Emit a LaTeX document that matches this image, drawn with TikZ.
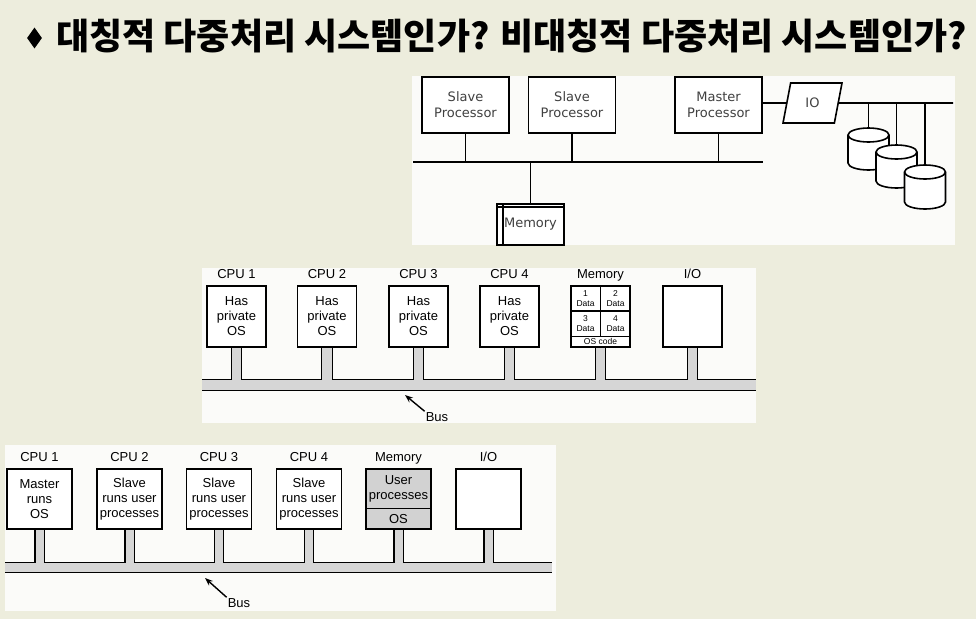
\documentclass[tikz,border=0pt]{standalone}
\usepackage{fontspec}
\setmainfont{Liberation Sans}
\newfontfamily\dejavu{DejaVu Sans}
\newfontfamily\kofont{Noto Sans CJK KR}
\usetikzlibrary{shapes.geometric, arrows.meta, positioning, calc}

\definecolor{slidebg}{RGB}{237,237,221}
\definecolor{panelbg}{RGB}{251,251,249}
\definecolor{busgray}{RGB}{214,214,214}
\definecolor{memgray}{RGB}{210,210,210}

\begin{document}
\begin{tikzpicture}[
  x=1pt, y=-1pt,
  procbox/.style={rectangle, draw, line width=1.6pt, fill=white, minimum width=87pt, minimum height=56pt, inner sep=0pt, align=center, text=black!75, font=\dejavu\fontsize{13}{16}\selectfont},
  wire/.style={line width=1.6pt},
  iobox/.style={trapezium, trapezium left angle=76, trapezium right angle=104, trapezium stretches=true, draw, line width=1.6pt, fill=white, minimum width=59pt, minimum height=40pt, inner sep=0pt, text=black!75, font=\dejavu\fontsize{13}{16}\selectfont},
  disk/.style={wire, fill=white},
  cpubox/.style={rectangle, draw, line width=1.2pt, fill=white, inner sep=0pt, align=center, font=\fontsize{13}{15}\selectfont},
  smpbox/.style={cpubox, minimum width=59pt, minimum height=61pt},
  ampbox/.style={cpubox, minimum width=65pt, minimum height=60pt},
  cpulbl/.style={font=\fontsize{13}{15}\selectfont, inner sep=0pt, text height=9.5pt, text depth=0pt, label distance=7pt},
  cell/.style={inner sep=0pt, align=center, font=\fontsize{8.5}{9.5}\selectfont},
  bus/.style={line width=1.2pt, double=busgray},
  busarrow/.style={-{Stealth[length=8pt, width=6pt]}, line width=1.4pt},
  buslbl/.style={inner sep=1pt, font=\fontsize{13}{15}\selectfont}
]
\useasboundingbox (0,0) rectangle (976,619);
\fill[slidebg] (0,0) rectangle (976,619);

% Title
\node[diamond, fill=black, minimum width=15pt, minimum height=21pt, inner sep=0pt] (bullet) at (34.5,38) {};
\node[anchor=west, inner sep=0pt, font=\kofont\bfseries\fontsize{36}{40}\selectfont] (title) at (56,36) {대칭적 다중처리 시스템인가? 비대칭적 다중처리 시스템인가?};

% Panels
\fill[panelbg] (412,76) rectangle (955,245);
\fill[panelbg] (202,268) rectangle (756,423);
\fill[panelbg] (5,445) rectangle (556,611);

% Master/slave processors
\node[procbox] (slave1) at (465.5,105) {Slave\\Processor};
\node[procbox] (slave2) at (572,105) {Slave\\Processor};
\node[procbox] (master) at (718.5,105) {Master\\Processor};
\node[procbox, minimum width=67pt, minimum height=41pt] (mem) at (530.5,224.5) {Memory};
\draw[wire] ([xshift=7pt]mem.north west) -- ([xshift=7pt]mem.south west);
\draw[wire] ([yshift=-4pt]mem.north west) -- ([yshift=-4pt]mem.north east);

\coordinate (bus1l) at (413,162);
\coordinate (bus1r) at (763,162);
\draw[wire] (bus1l) -- (bus1r);
\draw[wire] (slave1.south) -- (slave1.south |- bus1l);
\draw[wire] (slave2.south) -- (slave2.south |- bus1l);
\draw[wire] (master.south) -- (master.south |- bus1l);
\draw[wire] (mem.north) -- (mem.north |- bus1l);

% IO and disks
\node[iobox] (io) at (812.5,103) {IO};
\coordinate (ioend) at (953,103);
\draw[wire] (master.east |- io.west) -- (io.west);
\draw[wire] (io.east) -- (ioend);

\coordinate (disk1) at (868.5,128);
\coordinate (disk2) at (896.5,145);
\coordinate (disk3) at (925,165);
\filldraw[disk] ($(disk1)+(-20.5,7)$) -- ++(0,28) arc[start angle=180, end angle=360, x radius=20.5pt, y radius=7pt] -- ++(0,-28) arc[start angle=0, end angle=180, x radius=20.5pt, y radius=7pt] -- cycle;
\draw[wire] ($(disk1)+(-20.5,7)$) arc[start angle=180, end angle=360, x radius=20.5pt, y radius=7pt];
\filldraw[disk] ($(disk2)+(-20.5,7)$) -- ++(0,29) arc[start angle=180, end angle=360, x radius=20.5pt, y radius=7pt] -- ++(0,-29) arc[start angle=0, end angle=180, x radius=20.5pt, y radius=7pt] -- cycle;
\draw[wire] ($(disk2)+(-20.5,7)$) arc[start angle=180, end angle=360, x radius=20.5pt, y radius=7pt];
\filldraw[disk] ($(disk3)+(-20.5,7)$) -- ++(0,30) arc[start angle=180, end angle=360, x radius=20.5pt, y radius=7pt] -- ++(0,-30) arc[start angle=0, end angle=180, x radius=20.5pt, y radius=7pt] -- cycle;
\draw[wire] ($(disk3)+(-20.5,7)$) arc[start angle=180, end angle=360, x radius=20.5pt, y radius=7pt];
\draw[wire] (disk1 |- ioend) -- (disk1);
\draw[wire] (disk2 |- ioend) -- (disk2);
\draw[wire] (disk3 |- ioend) -- (disk3);

% Symmetric: each CPU has private OS
\node[smpbox, label={[cpulbl]above:CPU 1}] (smp1) at (236.5,316.5) {Has\\private\\OS};
\node[smpbox, label={[cpulbl]above:CPU 2}] (smp2) at (327,316.5) {Has\\private\\OS};
\node[smpbox, label={[cpulbl]above:CPU 3}] (smp3) at (418.5,316.5) {Has\\private\\OS};
\node[smpbox, label={[cpulbl]above:CPU 4}] (smp4) at (509.5,316.5) {Has\\private\\OS};
\node[smpbox, label={[cpulbl]above:Memory}] (smpmem) at (600.5,316.5) {};
\node[smpbox, label={[cpulbl]above:I/O}] (smpio) at (692.5,316.5) {};

\draw[line width=1.2pt] ($(smpmem.north west)!0.41!(smpmem.south west)$) -- ($(smpmem.north east)!0.41!(smpmem.south east)$);
\draw[line width=1.2pt] ($(smpmem.north west)!0.82!(smpmem.south west)$) -- ($(smpmem.north east)!0.82!(smpmem.south east)$);
\draw[line width=1.2pt] (smpmem.north) -- ($(smpmem.north)!0.82!(smpmem.south)$);
\node[cell] (d1) at (585.5,298.5) {1\\Data};
\node[cell] (d2) at (615.5,298.5) {2\\Data};
\node[cell] (d3) at (585.5,323.5) {3\\Data};
\node[cell] (d4) at (615.5,323.5) {4\\Data};
\node[cell] (oscode) at (600.5,341.5) {OS code};

\coordinate (bus2l) at (202,385);
\coordinate (bus2r) at (756,385);
\draw[bus, double distance=10pt] (bus2l) -- (bus2r);
\draw[bus, double distance=9.5pt] ($(smp1.south)+(0,0.6)$) -- ($(smp1.south |- bus2l)+(0,-5)$);
\draw[bus, double distance=9.5pt] ($(smp2.south)+(0,0.6)$) -- ($(smp2.south |- bus2l)+(0,-5)$);
\draw[bus, double distance=9.5pt] ($(smp3.south)+(0,0.6)$) -- ($(smp3.south |- bus2l)+(0,-5)$);
\draw[bus, double distance=9.5pt] ($(smp4.south)+(0,0.6)$) -- ($(smp4.south |- bus2l)+(0,-5)$);
\draw[bus, double distance=9.5pt] ($(smpmem.south)+(0,0.6)$) -- ($(smpmem.south |- bus2l)+(0,-5)$);
\draw[bus, double distance=9.5pt] ($(smpio.south)+(0,0.6)$) -- ($(smpio.south |- bus2l)+(0,-5)$);

\coordinate (tip2) at (405,395);
\node[buslbl] (buslbl2) at (437,417) {Bus};
\draw[busarrow] (buslbl2.north west) -- (tip2);

% Asymmetric: master runs OS
\node[ampbox, label={[cpulbl]above:CPU 1}] (amp1) at (39.5,499) {Master\\runs\\OS};
\node[ampbox, label={[cpulbl]above:CPU 2}] (amp2) at (129.5,499) {Slave\\runs user\\processes};
\node[ampbox, label={[cpulbl]above:CPU 3}] (amp3) at (219,499) {Slave\\runs user\\processes};
\node[ampbox, label={[cpulbl]above:CPU 4}] (amp4) at (309,499) {Slave\\runs user\\processes};
\node[ampbox, fill=memgray, label={[cpulbl]above:Memory}] (ampmem) at (398.5,499) {};
\node[ampbox, label={[cpulbl]above:I/O}] (ampio) at (488.5,499) {};

\draw[line width=1.2pt] ($(ampmem.north west)!0.65!(ampmem.south west)$) -- ($(ampmem.north east)!0.65!(ampmem.south east)$);
\node[cell, font=\fontsize{13}{15}\selectfont] (userp) at (398.5,489) {User\\processes};
\node[cell, font=\fontsize{13}{15}\selectfont] (ampos) at (398.5,519) {OS};

\coordinate (bus3l) at (5,567.5);
\coordinate (bus3r) at (552,567.5);
\draw[bus, double distance=9pt] (bus3l) -- (bus3r);
\draw[bus, double distance=8pt] ($(amp1.south)+(0,0.6)$) -- ($(amp1.south |- bus3l)+(0,-4.5)$);
\draw[bus, double distance=8pt] ($(amp2.south)+(0,0.6)$) -- ($(amp2.south |- bus3l)+(0,-4.5)$);
\draw[bus, double distance=8pt] ($(amp3.south)+(0,0.6)$) -- ($(amp3.south |- bus3l)+(0,-4.5)$);
\draw[bus, double distance=8pt] ($(amp4.south)+(0,0.6)$) -- ($(amp4.south |- bus3l)+(0,-4.5)$);
\draw[bus, double distance=8pt] ($(ampmem.south)+(0,0.6)$) -- ($(ampmem.south |- bus3l)+(0,-4.5)$);
\draw[bus, double distance=8pt] ($(ampio.south)+(0,0.6)$) -- ($(ampio.south |- bus3l)+(0,-4.5)$);

\coordinate (tip3) at (205,578);
\node[buslbl] (buslbl3) at (239,603) {Bus};
\draw[busarrow] (buslbl3.north west) -- (tip3);

\end{tikzpicture}
\end{document}
